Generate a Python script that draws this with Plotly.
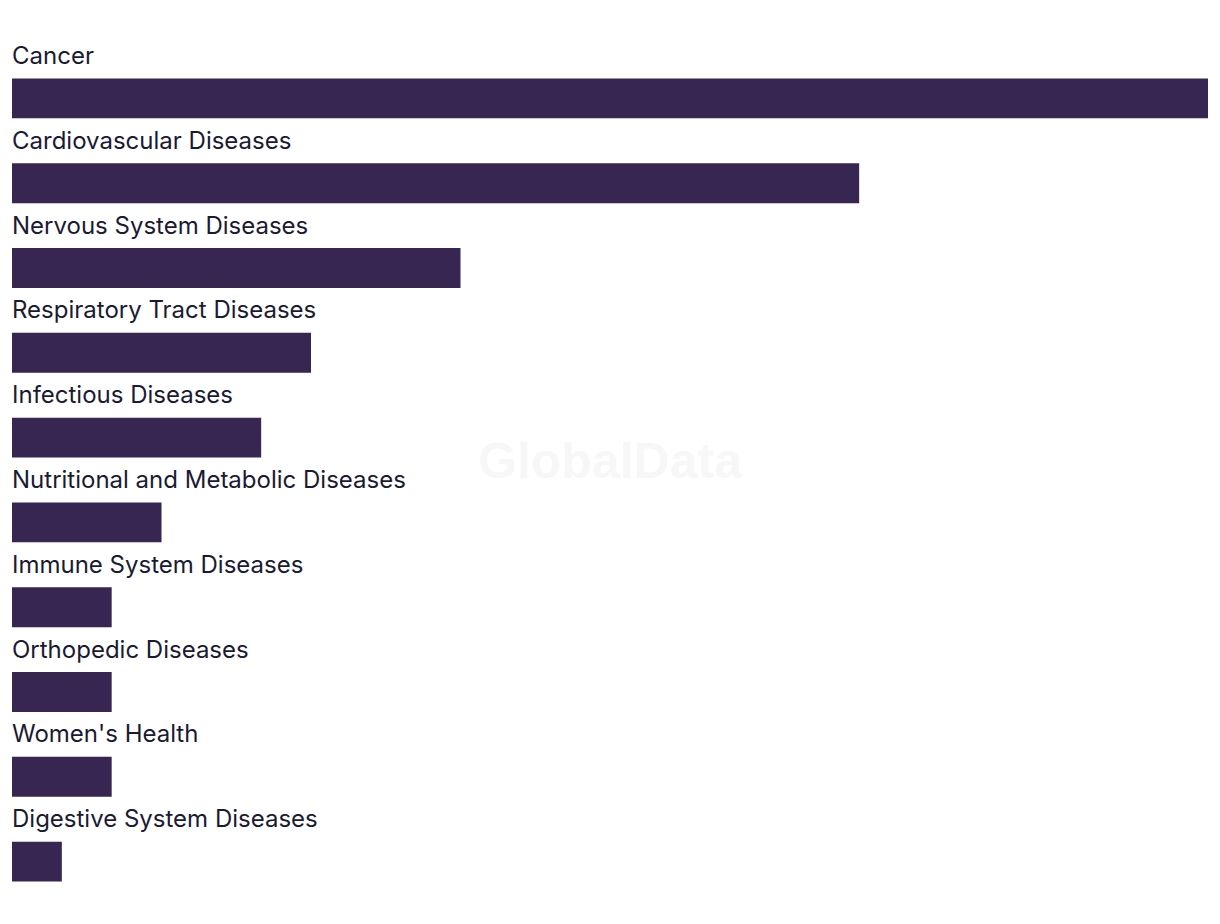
import plotly.graph_objects as go

categories = ["Cancer", "Cardiovascular Diseases", "Nervous System Diseases",
              "Respiratory Tract Diseases", "Infectious Diseases",
              "Nutritional and Metabolic Diseases", "Immune System Diseases",
              "Orthopedic Diseases", "Women's Health", "Digestive System Diseases"]
values = [24, 17, 9, 6, 5, 3, 2, 2, 2, 1]

fig = go.Figure()
fig.add_trace(go.Bar(x=values, y=categories, orientation="h",
                     marker=dict(color="#372552", line=dict(width=0)),
                     width=0.47, hoverinfo="x+y"))

for c in categories:
    fig.add_annotation(x=0, y=c, xref="x", yref="y", text=c, showarrow=False,
                       xanchor="left", yanchor="middle", yshift=43, xshift=-2,
                       font=dict(family="Inter, Roboto, sans-serif", size=24, color="#1b1a33"))

fig.add_annotation(x=0.5, y=0.5, xref="paper", yref="paper", text="<b>GlobalData</b>",
                   showarrow=False, yshift=19,
                   font=dict(family="Liberation Sans, Arial, sans-serif", size=50, color="#f7f7f7"))

fig.update_layout(
    width=1220, height=924,
    margin=dict(l=12, r=12, t=56, b=20),
    plot_bgcolor="white", paper_bgcolor="white",
    showlegend=False, bargap=0.53,
    xaxis=dict(range=[0, 24], visible=False, fixedrange=True),
    yaxis=dict(range=[9.5, -0.5], visible=False, type="category", fixedrange=True),
)
fig.write_html("out.html")
